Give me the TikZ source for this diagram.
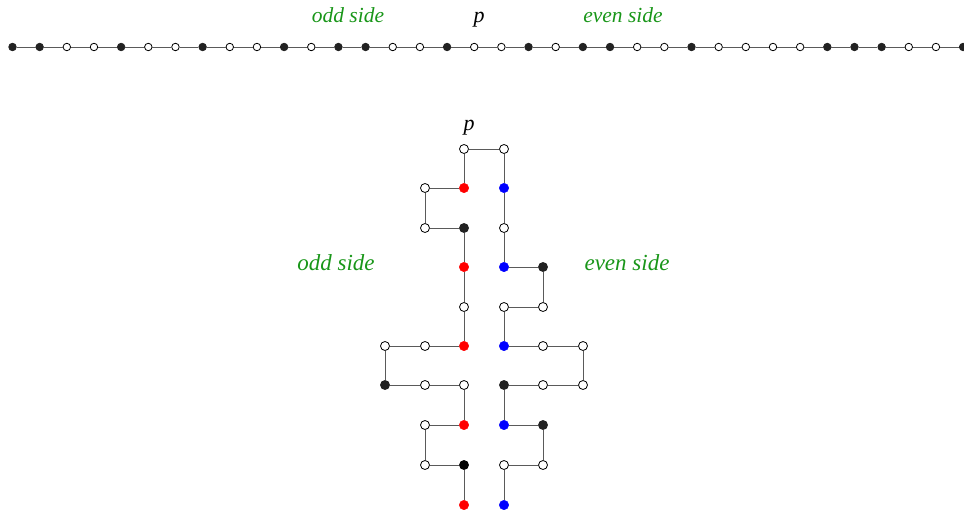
\documentclass[tikz,border=0pt]{standalone}
\usepackage{fontspec}
\setmainfont{Liberation Serif}
\definecolor{sidegreen}{RGB}{25,150,25}
\definecolor{beadline}{RGB}{90,90,90}
\definecolor{beadfill}{RGB}{34,34,34}
\tikzset{
  op/.style={circle, draw=black, line width=0.8pt, fill=white, inner sep=0pt, minimum size=9pt},
  hb/.style={circle, draw=beadfill, line width=0.8pt, fill=beadfill, inner sep=0pt, minimum size=9pt},
  kb/.style={circle, draw=black, line width=0.8pt, fill=black, inner sep=0pt, minimum size=9pt},
  rd/.style={circle, draw=red, fill=red, inner sep=0pt, minimum size=9.5pt},
  bl/.style={circle, draw=blue, fill=blue, inner sep=0pt, minimum size=9.5pt},
  opsm/.style={op, minimum size=7.5pt},
  hbsm/.style={hb, minimum size=7.5pt},
  link/.style={draw=beadline, line width=1pt},
  sidelab/.style={text=sidegreen, font=\fontsize{21.5}{24}\selectfont\itshape, anchor=base},
  sidelabbig/.style={text=sidegreen, font=\fontsize{23}{26}\selectfont\itshape, anchor=base},
  plab/.style={font=\fontsize{22}{24}\selectfont\itshape, anchor=base}
}
\begin{document}
\begin{tikzpicture}[x=1pt, y=-1pt]
\useasboundingbox (0,0) rectangle (964,514);
% top row
\foreach \s [count=\i] in {hbsm,hbsm,opsm,opsm,hbsm,opsm,opsm,hbsm,opsm,opsm,hbsm,opsm,hbsm,hbsm,opsm,opsm,hbsm,opsm,opsm,hbsm,opsm,hbsm,hbsm,opsm,opsm,hbsm,opsm,opsm,opsm,opsm,hbsm,hbsm,hbsm,opsm,opsm,hbsm}
  \node[\s] (t\i) at ({12.5+(\i-1)*27.16},47) {};
\foreach \i [evaluate=\i as \j using int(\i+1)] in {1,...,35}
  \draw[link] (t\i) -- (t\j);
\node[sidelab] (oddtop) at (348,22) {odd side};
\node[plab] (ptop) at (479,22) {p};
\node[sidelab] (eventop) at (623,22) {even side};
% bottom folded chain
\foreach \n/\x/\y/\s in {
  L0/464/149/op, L1/464/188/rd, L2/425/188/op, L3/425/228/op, L4/464/228/hb,
  L5/464/267/rd, L6/464/307/op, L7/464/346/rd, L8/425/346/op, L9/385/346/op,
  L10/385/385/hb, L11/425/385/op, L12/464/385/op, L13/464/425/rd, L14/425/425/op,
  L15/425/465/op, L16/464/465/kb, L17/464/505/rd,
  R0/504/149/op, R1/504/188/bl, R2/504/228/op, R3/504/267/bl, R4/543/267/hb,
  R5/543/307/op, R6/504/307/op, R7/504/346/bl, R8/543/346/op, R9/583/346/op,
  R10/583/385/op, R11/543/385/op, R12/504/385/hb, R13/504/425/bl, R14/543/425/hb,
  R15/543/465/op, R16/504/465/op, R17/504/505/bl}
  \node[\s] (\n) at (\x,\y) {};
\draw[link] (L0) -- (R0);
\foreach \i [evaluate=\i as \j using int(\i+1)] in {0,...,16} {
  \draw[link] (L\i) -- (L\j);
  \draw[link] (R\i) -- (R\j);
}
\node[plab] (pbot) at (469,130) {p};
\node[sidelabbig] (oddbot) at (336,270) {odd side};
\node[sidelabbig] (evenbot) at (627,270) {even side};
\end{tikzpicture}
\end{document}
